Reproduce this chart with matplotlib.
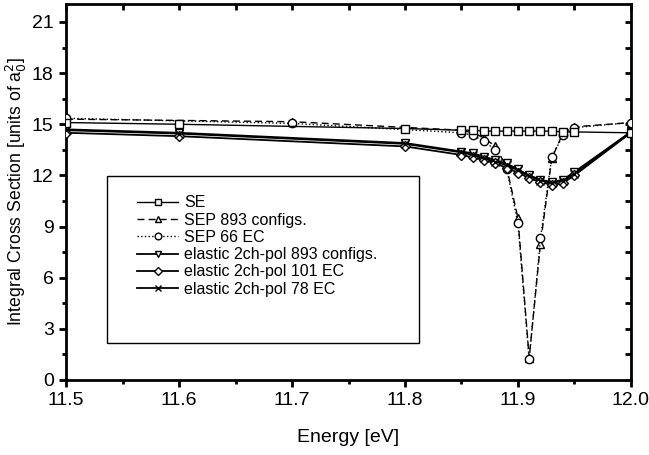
import matplotlib
matplotlib.use("Agg")
import matplotlib.pyplot as plt
from matplotlib.ticker import MultipleLocator
from matplotlib.patches import Rectangle

plt.rcParams['font.family'] = ['Liberation Sans', 'DejaVu Sans']

# --- data ---
e_se = [11.5, 11.6, 11.8, 11.85, 11.86, 11.87, 11.88, 11.89, 11.90, 11.91, 11.92, 11.93, 11.94, 11.95, 12.0]
se = [15.1, 15.0, 14.75, 14.65, 14.65, 14.6, 14.6, 14.6, 14.6, 14.6, 14.6, 14.6, 14.55, 14.55, 14.5]

e_sep = [11.5, 11.7, 11.85, 11.86, 11.87, 11.88, 11.89, 11.90, 11.91, 11.92, 11.93, 11.94, 11.95, 12.0]
sep893 = [15.3, 15.15, 14.65, 14.5, 14.2, 13.7, 12.5, 9.5, 1.3, 8.0, 13.0, 14.5, 14.85, 15.1]
sep66 = [15.35, 15.05, 14.5, 14.35, 14.0, 13.5, 12.4, 9.2, 1.2, 8.3, 13.1, 14.35, 14.8, 15.1]

e_el = [11.5, 11.6, 11.8, 11.85, 11.86, 11.87, 11.88, 11.89, 11.90, 11.91, 11.92, 11.93, 11.94, 11.95, 12.0]
el893 = [14.7, 14.5, 13.9, 13.4, 13.3, 13.1, 12.9, 12.7, 12.35, 12.0, 11.75, 11.6, 11.75, 12.2, 14.55]
el101 = [14.5, 14.3, 13.7, 13.2, 13.05, 12.9, 12.7, 12.45, 12.15, 11.85, 11.6, 11.45, 11.55, 12.0, 14.5]
el78 = [14.65, 14.45, 13.85, 13.35, 13.2, 13.0, 12.8, 12.6, 12.3, 11.95, 11.7, 11.55, 11.7, 12.1, 14.55]

labels = ["SE", "SEP 893 configs.", "SEP 66 EC",
          "elastic 2ch-pol 893 configs.", "elastic 2ch-pol 101 EC", "elastic 2ch-pol 78 EC"]
xticks = [11.5, 11.6, 11.7, 11.8, 11.9, 12.0]
xticklabels = ["11.5", "11.6", "11.7", "11.8", "11.9", "12.0"]

fig = plt.figure(figsize=(6.49, 4.55), dpi=100)
ax = fig.add_axes([0.102, 0.165, 0.870, 0.826])

ms = 6
ax.plot(e_se, se, '-', color='black', lw=1.0, marker='s', ms=ms, mfc='white', mec='black', mew=1.0, label=labels[0], zorder=4)
ax.plot(e_sep, sep893, '--', color='black', lw=1.0, marker='^', ms=ms, mfc='white', mec='black', mew=1.0, label=labels[1], dashes=(5, 3), zorder=3)
ax.plot(e_sep, sep66, ':', color='black', lw=1.0, marker='o', ms=ms, mfc='white', mec='black', mew=1.0, label=labels[2], zorder=3)
ax.plot(e_el, el893, '-', color='black', lw=1.3, marker='v', ms=ms, mfc='white', mec='black', mew=1.0, label=labels[3], zorder=3)
ax.plot(e_el, el101, '-', color='black', lw=1.3, marker='D', ms=5, mfc='white', mec='black', mew=1.0, label=labels[4], zorder=3)
ax.plot(e_el, el78, '-', color='black', lw=1.3, marker='x', ms=ms, mfc='white', mec='black', mew=1.0, label=labels[5], zorder=3)

ax.set_xlim(11.5, 12.0)
ax.set_ylim(0, 22.05)
ax.xaxis.set_minor_locator(MultipleLocator(0.05))
ax.yaxis.set_major_locator(MultipleLocator(3))
ax.yaxis.set_minor_locator(MultipleLocator(1.5))
ax.set_xticks(xticks)
ax.set_xticklabels(xticklabels)

for s in ax.spines.values():
    s.set_linewidth(2.0)

ax.tick_params(which='major', direction='out', length=5, width=2, labelsize=14, top=False, right=False, pad=4)
ax.tick_params(which='minor', direction='out', length=3, width=2, top=False, right=False)
ax2 = ax.secondary_xaxis('top')
ax2.xaxis.set_major_locator(MultipleLocator(0.1))
ax2.xaxis.set_minor_locator(MultipleLocator(0.05))
ax2.tick_params(which='both', direction='in', length=4, width=2, labeltop=False)
ax3 = ax.secondary_yaxis('right')
ax3.yaxis.set_major_locator(MultipleLocator(3))
ax3.yaxis.set_minor_locator(MultipleLocator(1.5))
ax3.tick_params(which='both', direction='in', length=4, width=2, labelright=False)
ax2.spines['top'].set_visible(False)
ax3.spines['right'].set_visible(False)

ax.set_xlabel("Energy [eV]", fontsize=14, labelpad=14)
ax.set_ylabel("Integral Cross Section [units of a$_0^2$]", fontsize=12.7, labelpad=2)

# legend frame drawn separately (text sits in the upper part of the box)
box = Rectangle((0.0726, 0.0984), 0.552, 0.444, transform=ax.transAxes,
                facecolor='white', edgecolor='black', lw=1.0, zorder=5)
ax.add_patch(box)
leg = ax.legend(loc='upper left', bbox_to_anchor=(0.1257, 0.491),
                fontsize=11.5, frameon=False, borderpad=0, borderaxespad=0,
                handlelength=2.56, labelspacing=0.14, markerscale=0.8, handletextpad=0.37)
leg.set_zorder(6)

fig.savefig("out.png", dpi=100)
